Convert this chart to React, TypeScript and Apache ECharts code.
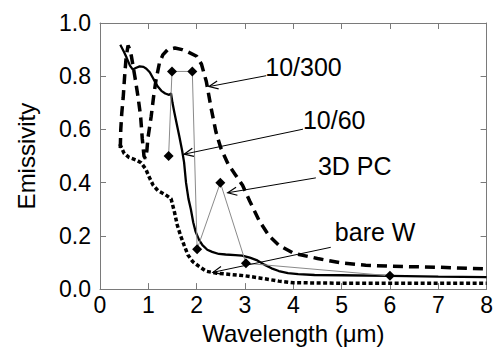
import React, { useEffect, useRef } from 'react';
import * as echarts from 'echarts';

const FONT = '"Liberation Sans", Arial, Helvetica, sans-serif';

// 10/300 (thick dashed)
const w10_300: number[][] = [
  [0.42, 0.53], [0.43, 0.6], [0.45, 0.66], [0.48, 0.72], [0.51, 0.8], [0.54, 0.87], [0.58, 0.915],
  [0.62, 0.9], [0.65, 0.875], [0.72, 0.8], [0.785, 0.725], [0.84, 0.65], [0.875, 0.565], [0.91, 0.5],
  [0.94, 0.49], [0.97, 0.52], [0.99, 0.565], [1.06, 0.65], [1.11, 0.725], [1.16, 0.787], [1.23, 0.85],
  [1.3, 0.88], [1.4, 0.9], [1.55, 0.906], [1.7, 0.9], [1.8, 0.893], [2.0, 0.875], [2.1, 0.845],
  [2.2, 0.78], [2.3, 0.68], [2.4, 0.59], [2.5, 0.53], [2.65, 0.47], [2.8, 0.43], [2.95, 0.39],
  [3.1, 0.33], [3.3, 0.255], [3.5, 0.2], [3.7, 0.165], [4.0, 0.135], [4.5, 0.115], [5.0, 0.098],
  [5.5, 0.09], [6.0, 0.086], [7.0, 0.082], [8.0, 0.076],
];

// 10/60 (solid)
const w10_60: number[][] = [
  [0.42, 0.918], [0.5, 0.89], [0.55, 0.87], [0.62, 0.84], [0.68, 0.825], [0.75, 0.832], [0.82, 0.837],
  [0.9, 0.835], [0.96, 0.828], [1.03, 0.815], [1.09, 0.795], [1.15, 0.775], [1.2, 0.76], [1.27, 0.745],
  [1.35, 0.735], [1.43, 0.73], [1.47, 0.735], [1.5, 0.7], [1.54, 0.663], [1.6, 0.61], [1.64, 0.575],
  [1.7, 0.52], [1.74, 0.476], [1.78, 0.4], [1.83, 0.34], [1.88, 0.3], [1.93, 0.25], [1.98, 0.215],
  [2.05, 0.185], [2.12, 0.165], [2.22, 0.148], [2.32, 0.14], [2.46, 0.132], [2.6, 0.13], [2.8, 0.128],
  [2.94, 0.126], [3.1, 0.118], [3.24, 0.109], [3.4, 0.092], [3.55, 0.078], [3.7, 0.068], [3.89, 0.06],
  [4.1, 0.056], [4.44, 0.053], [5.0, 0.052], [6.0, 0.05], [7.0, 0.047], [8.0, 0.045],
];

// bare W (dotted)
const bareW: number[][] = [
  [0.41, 0.545], [0.5, 0.51], [0.6, 0.495], [0.75, 0.485], [0.85, 0.475], [0.95, 0.45], [1.02, 0.42],
  [1.1, 0.39], [1.2, 0.37], [1.35, 0.355], [1.47, 0.34], [1.54, 0.29], [1.6, 0.24], [1.67, 0.2],
  [1.74, 0.165], [1.82, 0.128], [1.92, 0.103], [2.05, 0.085], [2.2, 0.067], [2.4, 0.06], [2.7, 0.055],
  [3.0, 0.05], [3.3, 0.042], [3.7, 0.03], [4.0, 0.024], [5.0, 0.022], [8.0, 0.022],
];

// 3D PC (diamonds)
const pc3d: number[][] = [
  [1.42, 0.5], [1.49, 0.818], [1.91, 0.818], [2.01, 0.15], [2.49, 0.4], [3.02, 0.097], [6.0, 0.05],
];

// annotations: [arrowStartX, arrowStartY, arrowTipX, arrowTipY, textX, textY]
const annLabels = ['10/300', '10/60', '3D PC', 'bare W'];
const annData: number[][] = [
  [3.44, 0.802, 2.254, 0.761, 3.42, 0.836],
  [4.2, 0.601, 1.742, 0.507, 4.2, 0.634],
  [4.467, 0.418, 2.643, 0.362, 4.51, 0.461],
  [4.775, 0.157, 2.336, 0.063, 4.86, 0.216],
];

const AXIS_COLOR = '#7a7a7a';

export default function App() {
  const ref = useRef<HTMLDivElement>(null);
  useEffect(() => {
    if (!ref.current) return;
    const chart = echarts.init(ref.current, undefined, { renderer: 'svg' });
    const baseX = {
      type: 'value' as const,
      min: 0,
      max: 8,
      interval: 1,
      axisLine: { show: true, onZero: false, lineStyle: { color: AXIS_COLOR, width: 1 } },
      axisTick: { show: true, inside: true, length: 6, lineStyle: { color: AXIS_COLOR } },
      splitLine: { show: false },
    };
    const baseY = {
      type: 'value' as const,
      min: 0,
      max: 1,
      interval: 0.2,
      axisLine: { show: true, onZero: false, lineStyle: { color: AXIS_COLOR, width: 1 } },
      axisTick: { show: true, inside: true, length: 6, lineStyle: { color: AXIS_COLOR } },
      splitLine: { show: false },
    };
    chart.setOption({
      animation: false,
      backgroundColor: '#fff',
      grid: { left: 100, right: 5.5, top: 23, bottom: 59 },
      xAxis: [
        {
          ...baseX,
          position: 'bottom',
          axisLabel: { fontSize: 23, color: '#000', margin: 4, fontFamily: FONT },
          name: 'Wavelength (\u03bcm)',
          nameLocation: 'middle',
          nameGap: 29,
          nameTextStyle: { fontSize: 24, color: '#000', fontFamily: FONT },
        },
        { ...baseX, position: 'top', axisLabel: { show: false } },
      ],
      yAxis: [
        {
          ...baseY,
          position: 'left',
          axisLabel: {
            fontSize: 23,
            color: '#000',
            margin: 9,
            fontFamily: FONT,
            formatter: (v: number) => v.toFixed(1),
          },
          name: 'Emissivity',
          nameLocation: 'middle',
          nameRotate: 90,
          nameGap: 62,
          nameTextStyle: { fontSize: 24, color: '#000', fontFamily: FONT },
        },
        { ...baseY, position: 'right', axisLabel: { show: false } },
      ],
      series: [
        {
          name: 'bare W',
          type: 'line',
          data: bareW,
          showSymbol: false,
          lineStyle: { color: '#000', width: 3.5, type: [4, 2.5], cap: 'butt' },
          z: 2,
        },
        {
          name: '10/300',
          type: 'line',
          data: w10_300,
          showSymbol: false,
          lineStyle: { color: '#000', width: 3.5, type: [10, 6], cap: 'butt' },
          z: 2,
        },
        {
          name: '10/60',
          type: 'line',
          data: w10_60,
          showSymbol: false,
          lineStyle: { color: '#000', width: 2.3 },
          z: 3,
        },
        {
          name: '3D PC',
          type: 'line',
          data: pc3d,
          symbol: 'diamond',
          symbolSize: 10,
          showSymbol: true,
          itemStyle: { color: '#000' },
          lineStyle: { color: '#8a8a8a', width: 1 },
          z: 4,
        },
        {
          name: 'annotations',
          type: 'custom',
          data: annData,
          clip: false,
          z: 5,
          renderItem: (params: any, api: any) => {
            const i = params.dataIndex;
            const p1 = api.coord([api.value(0), api.value(1)]);
            const p2 = api.coord([api.value(2), api.value(3)]);
            const t = api.coord([api.value(4), api.value(5)]);
            const ang = Math.atan2(p1[1] - p2[1], p1[0] - p2[0]);
            const L = 10;
            const a = 0.42;
            const h1 = [p2[0] + L * Math.cos(ang + a), p2[1] + L * Math.sin(ang + a)];
            const h2 = [p2[0] + L * Math.cos(ang - a), p2[1] + L * Math.sin(ang - a)];
            return {
              type: 'group',
              children: [
                {
                  type: 'line',
                  shape: { x1: p1[0], y1: p1[1], x2: p2[0], y2: p2[1] },
                  style: { stroke: '#000', lineWidth: 1 },
                },
                {
                  type: 'polyline',
                  shape: { points: [h1, p2, h2] },
                  style: { stroke: '#000', lineWidth: 1.2, fill: null },
                },
                {
                  type: 'text',
                  x: t[0],
                  y: t[1],
                  style: {
                    text: annLabels[i],
                    fontSize: 25,
                    fontFamily: FONT,
                    fill: '#000',
                    align: 'left',
                    verticalAlign: 'middle',
                  },
                },
              ],
            };
          },
        },
      ],
    });
    return () => chart.dispose();
  }, []);
  return (
    <div
      ref={ref}
      style={{ position: 'fixed', left: 0, top: 0, width: 496, height: 350, background: '#fff' }}
    />
  );
}
